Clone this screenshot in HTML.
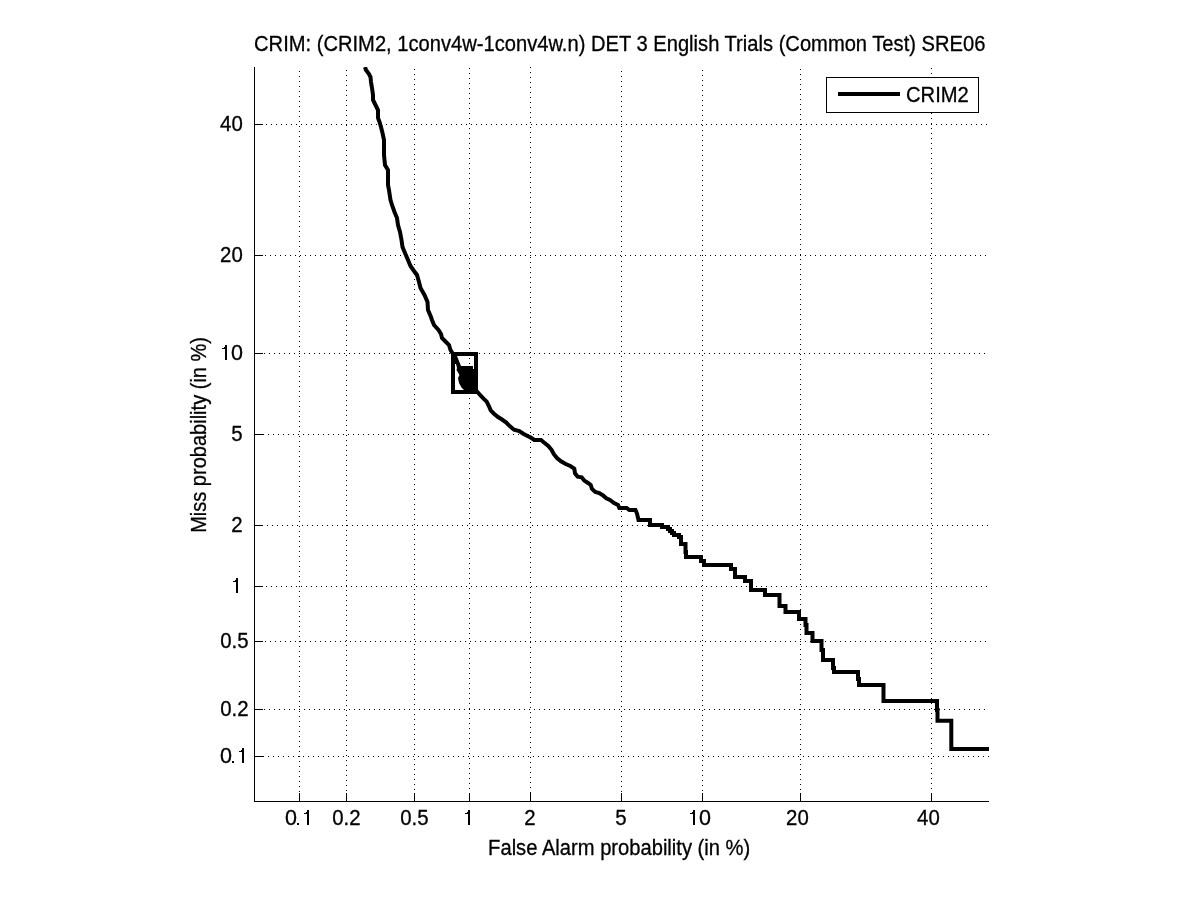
<!DOCTYPE html><html><head><meta charset="utf-8"><style>html,body{margin:0;padding:0;background:#fff;width:1201px;height:900px;overflow:hidden}svg{filter:grayscale(100%)}svg{display:block}text{font-family:"Liberation Sans",sans-serif;font-size:21.5px;fill:#000;stroke:#000;stroke-width:0.3px}</style></head><body>
<svg width="1201" height="900" viewBox="0 0 1201 900">
<rect x="0" y="0" width="1201" height="900" fill="#fff"/>
<path d="M299.5 71V802M346.5 70V802M414.5 69V802M469.5 68V802M530.5 67V802M621.5 71V802M702.5 70V802M800.5 69V802M931.5 68V802M258 756.5H989M254 709.5H989M255 641.5H989M256 586.5H989M257 525.5H989M258 434.5H989M254 353.5H989M255 255.5H989M256 124.5H989" stroke="#000" stroke-width="1" stroke-dasharray="1 4" fill="none" shape-rendering="crispEdges"/>
<rect x="254" y="67" width="1" height="735" fill="#000"/><rect x="254" y="801" width="735" height="1" fill="#000"/>
<rect x="299" y="793" width="1" height="8" fill="#000"/><rect x="255" y="756" width="8" height="1" fill="#000"/><rect x="346" y="793" width="1" height="8" fill="#000"/><rect x="255" y="709" width="8" height="1" fill="#000"/><rect x="414" y="793" width="1" height="8" fill="#000"/><rect x="255" y="641" width="8" height="1" fill="#000"/><rect x="469" y="793" width="1" height="8" fill="#000"/><rect x="255" y="586" width="8" height="1" fill="#000"/><rect x="530" y="793" width="1" height="8" fill="#000"/><rect x="255" y="525" width="8" height="1" fill="#000"/><rect x="621" y="793" width="1" height="8" fill="#000"/><rect x="255" y="434" width="8" height="1" fill="#000"/><rect x="702" y="793" width="1" height="8" fill="#000"/><rect x="255" y="353" width="8" height="1" fill="#000"/><rect x="800" y="793" width="1" height="8" fill="#000"/><rect x="255" y="255" width="8" height="1" fill="#000"/><rect x="931" y="793" width="1" height="8" fill="#000"/><rect x="255" y="124" width="8" height="1" fill="#000"/>
<defs><clipPath id="c"><rect x="254" y="67" width="735" height="735"/></clipPath></defs>
<path d="M365,67 L366,70 L369,74 L370.5,77 L371,82 L372,88 L373,95 L373,100 L375,104 L378,110 L378,118 L379.5,122 L381,127 L382.5,133 L384,140 L384,155 L385,165 L388,170 L388,185 L389,190 L390.5,200 L392,205 L394.5,212 L397,218 L398,225 L400,232 L401.5,240 L402.5,247 L405,253 L408,260 L410.5,266 L414,271 L417,275 L419,282 L420.5,288 L424.5,295 L427.5,302 L428,310 L431,317 L432,320 L434,325 L438.5,330 L441,334 L442,338 L445,341 L449,345 L450.5,350 L453,354M474,388 L477.3,391.7 L480.7,395.7 L483.3,398.3 L486.7,401.7 L489,406.3 L490.7,410.3 L494,413.7 L498,417 L501.3,419 L506,422.3 L510,426.3 L514,429.7 L519.3,431 L523.3,433.7 L528,436.3 L530.3,437.3 L534.3,440 L541,440 L544.3,442.7 L548.3,446 L551.7,450 L553.7,454 L557,458 L561,461.3 L565.7,464 L570.3,466 L574.3,468.7 L575,473.3 L577.7,476.7 L581.7,477.3 L584,480.3 L588,483 L590.7,485 L592,489 L595.3,492 L599.3,493 L603.3,495.7 L606.3,498.3 L610,500 L614,503 L618,505 L619.3,508 L626.7,508 L629.3,510 L635.5,510 L637,513.5 L638.5,520 L650,520 L650,525 L662,525 L662,527 L668,527 L668,529 L670,529 L670,531 L672,531 L672,533 L674,533 L674,535 L679,535 L679,537 L681,537 L681,544 L685.5,544 L685.5,552 L686,552 L686,557 L701,557 L701,561 L704,561 L704,565 L731,565 L731,569 L735,569 L735,577 L745,577 L745,581 L751,581 L751,590 L765,590 L765,595 L779.5,595 L779.5,606 L785.5,606 L785.5,612 L799,612 L799,619 L805.5,619 L805.5,625 L806.5,625 L806.5,633 L812.5,633 L812.5,641 L821.5,641 L821.5,650 L823,650 L823,660 L833,660 L833,668 L834,668 L834,672 L858,672 L858,679 L859,679 L859,685 L883.5,685 L883.5,701 L937,701 L937,710 L937.5,710 L937.5,720.7 L951.3,720.7 L951.3,749 L992,749" stroke="#000" stroke-width="4" fill="none" stroke-linejoin="miter" stroke-miterlimit="10" clip-path="url(#c)"/>
<rect x="453" y="354" width="23" height="38" stroke="#000" stroke-width="4" fill="none"/>
<path d="M455,356 L457,356 L461,366 L473,366 L473,369 L474,369 L474,390 L464,390 L461.5,387.5 L459,383 L458,378 L459.5,375 L456.5,370 L457,368 L456,364 L455,364 Z" fill="#000"/>
<rect x="826.5" y="77.5" width="152" height="35" stroke="#000" stroke-width="1" fill="#fff" shape-rendering="crispEdges"/>
<rect x="838" y="92" width="62" height="4" fill="#000"/>
<text transform="translate(906.06,102) scale(0.9385,1)">CRIM2</text>
<text transform="translate(332.25,825) scale(0.9500,1)">0.2</text>
<text transform="translate(400.25,825) scale(0.9500,1)">0.5</text>
<text transform="translate(524.30,825) scale(0.9500,1)">2</text>
<text transform="translate(615.30,825) scale(0.9500,1)">5</text>
<text transform="translate(786.10,825) scale(0.9500,1)">20</text>
<text transform="translate(917.10,825) scale(0.9500,1)">40</text>
<text transform="translate(285,825)">0</text>
<rect x="297" y="823" width="2" height="2" fill="#000"/>
<path d="M307 810h2v15h-2zM304 813h3v1h-3zM306 812h1v1h-1z" fill="#000"/>
<path d="M468 810h2v15h-2zM465 813h3v1h-3zM467 812h1v1h-1z" fill="#000"/>
<path d="M693 810h2v15h-2zM690 813h3v1h-3zM692 812h1v1h-1z" fill="#000"/>
<text transform="translate(699,825)">0</text>
<text transform="translate(220.10,131) scale(0.9500,1)">40</text>
<text transform="translate(220.10,262) scale(0.9500,1)">20</text>
<text transform="translate(231.30,441) scale(0.9500,1)">5</text>
<text transform="translate(231.30,532) scale(0.9500,1)">2</text>
<text transform="translate(220.25,648) scale(0.9500,1)">0.5</text>
<text transform="translate(220.25,716) scale(0.9500,1)">0.2</text>
<text transform="translate(220,763)">0</text>
<rect x="232" y="761" width="2" height="2" fill="#000"/>
<path d="M242 748h2v15h-2zM239 751h3v1h-3zM241 750h1v1h-1z" fill="#000"/>
<path d="M236 578h2v15h-2zM233 581h3v1h-3zM235 580h1v1h-1z" fill="#000"/>
<path d="M225 345h2v15h-2zM222 348h3v1h-3zM224 347h1v1h-1z" fill="#000"/>
<text transform="translate(231,360)">0</text>
<text transform="translate(254.06,51) scale(0.9371,1)">CRIM: (CRIM2, 1conv4w-1conv4w.n) DET 3 English Trials (Common Test) SRE06</text>
<text transform="translate(488.12,855) scale(0.9384,1)">False Alarm probability (in %)</text>
<text transform="translate(206,532.86) rotate(-90) scale(0.9324,1)">Miss probability (in %)</text>
</svg></body></html>
